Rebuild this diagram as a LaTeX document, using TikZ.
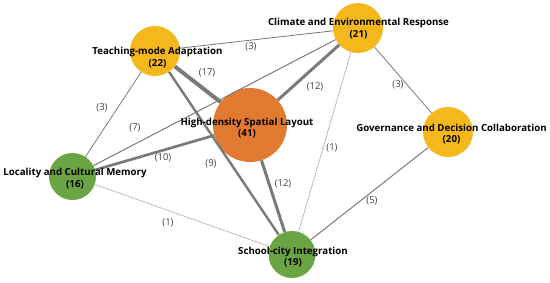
\documentclass[tikz,border=0pt]{standalone}
\usepackage{fontspec}
\setmainfont{Open Sans}
\usepackage{xcolor}
\definecolor{orangehub}{HTML}{E07A30}
\definecolor{yellowtheme}{HTML}{F4B81C}
\definecolor{greentheme}{HTML}{6AA443}
\definecolor{grayedge}{HTML}{7A7A7A}
\definecolor{graylight}{HTML}{BDBDBD}
\definecolor{graytext}{HTML}{404040}
\tikzset{
  theme/.style={circle,fill=#1,draw=none,inner sep=0pt},
  lbl/.style={font=\bfseries\fontsize{9.7}{11.5}\selectfont,align=center,text=black},
  elbl/.style={font=\fontsize{9.5}{11}\selectfont,text=graytext},
}

\begin{document}
\begin{tikzpicture}[x=1pt,y=-1pt]
  \useasboundingbox (0,0) rectangle (550,282);
  % themes
  \node[theme=orangehub,minimum size=74pt] (H) at (250,125) {};
  \node[theme=yellowtheme,minimum size=50pt] (T) at (155,51) {};
  \node[theme=yellowtheme,minimum size=50pt] (C) at (358,28) {};
  \node[theme=yellowtheme,minimum size=50pt] (G) at (448,132) {};
  \node[theme=greentheme,minimum size=47pt] (L) at (72.5,176.5) {};
  \node[theme=greentheme,minimum size=47pt] (S) at (292,254.5) {};
  % co-occurrence links
  \draw[grayedge,line width=0.8pt] (T) -- (C);
  \draw[grayedge,line width=4pt] (T) -- (H);
  \draw[grayedge,line width=0.8pt] (T) -- (L);
  \draw[grayedge,line width=2.4pt] (T) -- (S);
  \draw[grayedge,line width=1pt] (C) -- (L);
  \draw[grayedge,line width=3pt] (C) -- (H);
  \draw[grayedge,line width=0.8pt] (C) -- (G);
  \draw[graylight,line width=0.8pt] (C) -- (S);
  \draw[grayedge,line width=2.7pt] (H) -- (L);
  \draw[grayedge,line width=3pt] (H) -- (S);
  \draw[graylight,line width=0.8pt] (L) -- (S);
  \draw[grayedge,line width=1pt] (G) -- (S);
  % link weights
  \node[elbl] (wTC) at (251,47) {(3)};
  \node[elbl] (wTH) at (207,73) {(17)};
  \node[elbl] (wTL) at (102,108) {(3)};
  \node[elbl] (wTS) at (211,164) {(9)};
  \node[elbl] (wCL) at (135,128) {(7)};
  \node[elbl] (wCH) at (315,87) {(12)};
  \node[elbl] (wCG) at (398,85) {(3)};
  \node[elbl] (wCS) at (332,148) {(1)};
  \node[elbl] (wHL) at (163,157.5) {(10)};
  \node[elbl] (wHS) at (283,184) {(12)};
  \node[elbl] (wLS) at (168,223) {(1)};
  \node[elbl] (wGS) at (372,201) {(5)};
  % theme names
  \node[lbl] (nT) at (157.5,57.5) {Teaching-mode Adaptation\\(22)};
  \node[lbl] (nC) at (358.5,28.5) {Climate and Environmental Response\\(21)};
  \node[lbl] (nH) at (247,128) {High-density Spatial Layout\\(41)};
  \node[lbl] (nG) at (451.5,134) {Governance and Decision Collaboration\\(20)};
  \node[lbl] (nL) at (75,178.5) {Locality and Cultural Memory\\(16)};
  \node[lbl] (nS) at (293,257) {School-city Integration\\(19)};
\end{tikzpicture}
\end{document}
